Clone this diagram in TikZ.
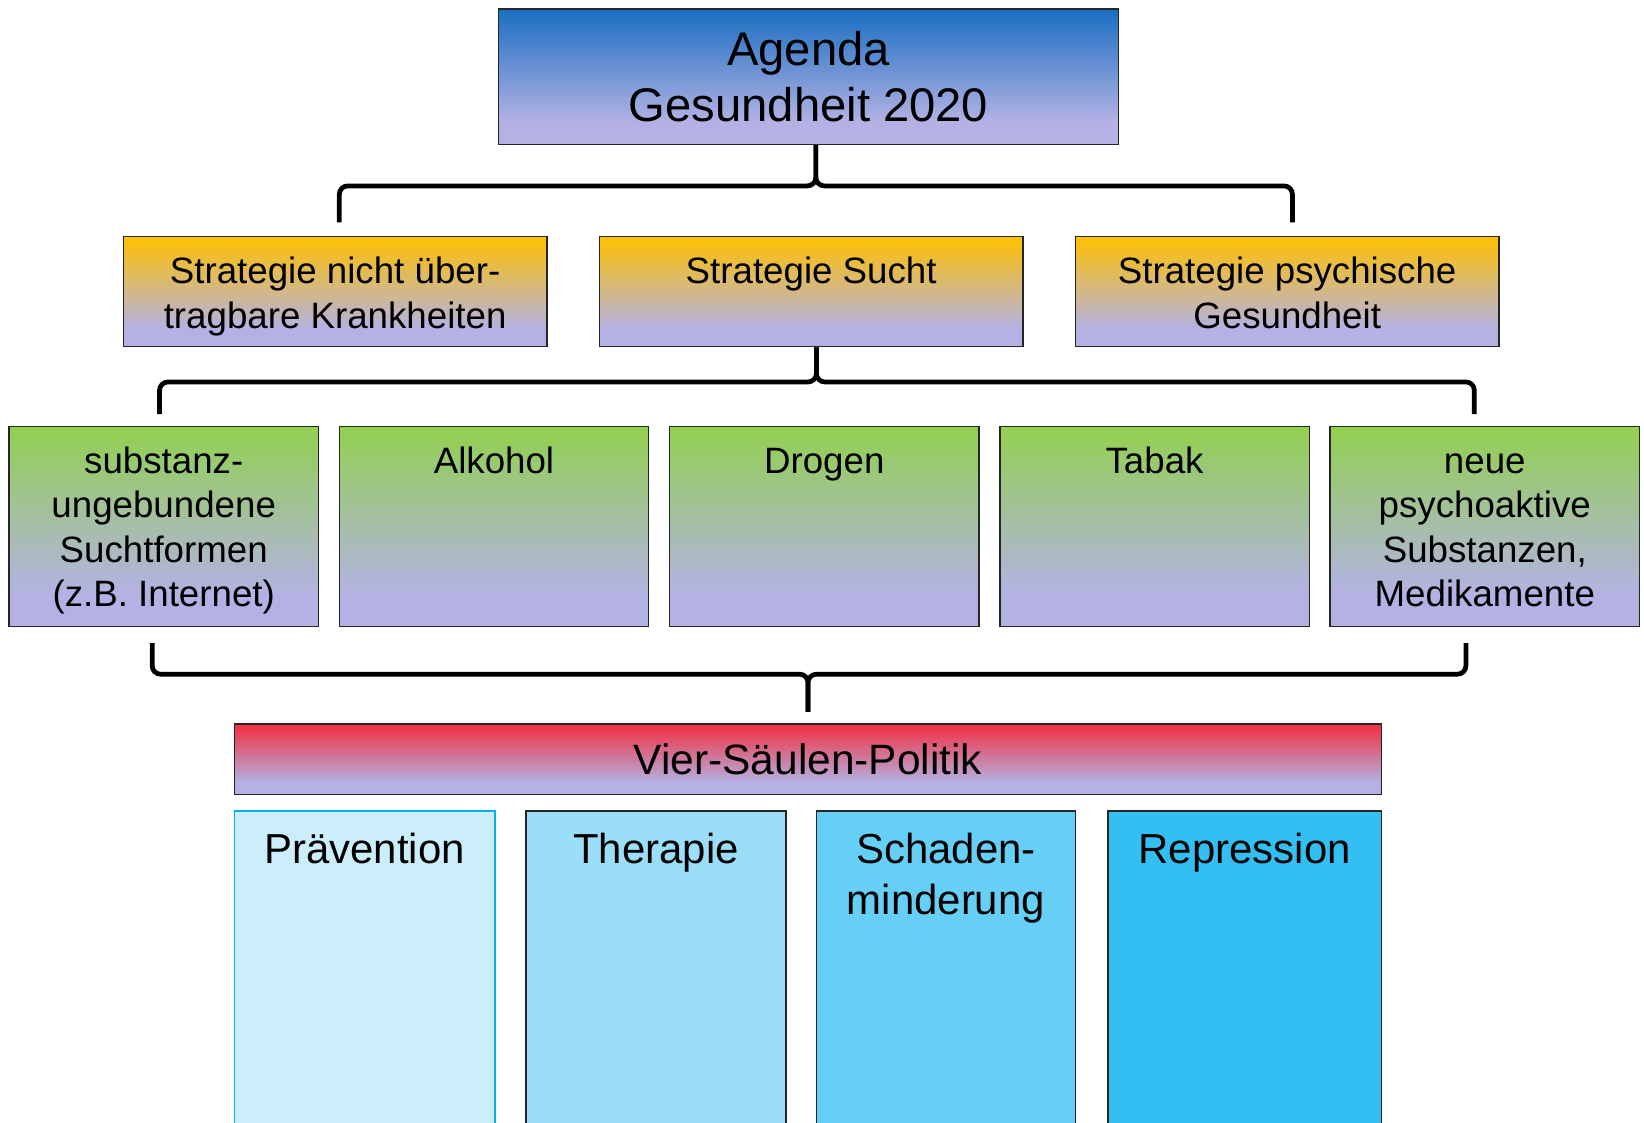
\documentclass[tikz,border=0pt]{standalone}
\usepackage{fontspec}
\setmainfont{Liberation Sans}
\usetikzlibrary{calc}

\definecolor{lav}{RGB}{180,178,228}
\definecolor{agendablue}{RGB}{26,110,194}
\definecolor{strgold}{RGB}{255,192,0}
\definecolor{suchtgreen}{RGB}{146,208,80}
\definecolor{politred}{RGB}{242,46,64}
\definecolor{boxline}{RGB}{38,38,38}
\definecolor{cyanline}{RGB}{0,176,240}

\pgfdeclareverticalshading{agendashade}{100bp}{color(0bp)=(lav); color(33bp)=(lav); color(75bp)=(agendablue); color(100bp)=(agendablue)}
\pgfdeclareverticalshading{strshade}{100bp}{color(0bp)=(lav); color(33bp)=(lav); color(75bp)=(strgold); color(100bp)=(strgold)}
\pgfdeclareverticalshading{suchtshade}{100bp}{color(0bp)=(lav); color(33bp)=(lav); color(75bp)=(suchtgreen); color(100bp)=(suchtgreen)}
\pgfdeclareverticalshading{politshade}{100bp}{color(0bp)=(lav); color(33bp)=(lav); color(75bp)=(politred); color(100bp)=(politred)}

% text at the top of a box: width, height, baseline offset, text
\newcommand{\toptext}[4]{\parbox[c][#2pt][t]{#1pt}{\centering\rule{0pt}{#3pt}#4}}

\begin{document}
\begin{tikzpicture}[x=1pt,y=1pt,
  box/.style={draw=boxline,line width=1.3pt,inner sep=0pt,anchor=north west},
  brace/.style={line width=4.5pt,rounded corners=8pt},
  praebox/.style={fill={rgb,255:red,204;green,238;blue,250},draw=cyanline,line width=1.6pt},
  therabox/.style={fill={rgb,255:red,154;green,222;blue,247}},
  schadbox/.style={fill={rgb,255:red,102;green,207;blue,245}},
  reprbox/.style={fill={rgb,255:red,51;green,191;blue,242}}]
\useasboundingbox (0,0) rectangle (1568,-1071);

\node[box,shade,shading=agendashade,font=\fontsize{45}{53}\selectfont] (agenda) at (475,-8)
  {\parbox[c][129pt][c]{591pt}{\centering Agenda\\Gesundheit 2020}};

% strategien
\foreach \x/\n/\t in {117/s1/{Strategie nicht über-\\tragbare Krankheiten},571/s2/{Strategie Sucht},1025/s3/{Strategie psychische\\Gesundheit}}
  \node[box,shade,shading=strshade,font=\fontsize{35}{42.5}\selectfont] (\n) at (\x,-225) {\toptext{404}{105}{45}{\t}};

% suchtformen
\foreach \i/\t in {1/{substanz-\\ungebundene\\Suchtformen\\(z.B. Internet)},2/Alkohol,3/Drogen,4/Tabak,5/{neue\\psychoaktive\\Substanzen,\\Medikamente}}
  \node[box,shade,shading=suchtshade,font=\fontsize{35}{42.5}\selectfont] (g\i) at ({8+315*(\i-1)},-406) {\toptext{295}{191}{44.5}{\t}};

\node[box,shade,shading=politshade,font=\fontsize{40.5}{48}\selectfont] (vsp) at (223,-690)
  {\parbox[c][67pt][c]{1094pt}{\centering Vier-Säulen-Politik}};

% saeulen
\foreach \x/\w/\n/\s/\t in {223/248/p1/praebox/Prävention,501/248/p2/therabox/Therapie,778/247/p3/schadbox/{Schaden-\\minderung},1056/261/p4/reprbox/Repression}
  \node[box,\s,font=\fontsize{40}{49}\selectfont] (\n) at (\x,-773) {\toptext{\w}{320}{50}{\t}};

% klammern
\draw[brace] ($(s1.north)+(4,13)$) |- ($(agenda.south)+(7,-39)$) -- ($(agenda.south)+(7,0)$);
\draw[brace] ($(s3.north)+(5,13)$) |- ($(agenda.south)+(7,-39)$) -- ($(agenda.south)+(7,0)$);
\draw[brace] ($(g1.north)+(-4,11)$) |- ($(s2.south)+(5,-33)$) -- ($(s2.south)+(5,0)$);
\draw[brace] ($(g5.north)+(-10,11)$) |- ($(s2.south)+(5,-33)$) -- ($(s2.south)+(5,0)$);
\draw[brace] ($(g1.south)+(-11,-15)$) |- ($(vsp.north)+(0,47)$) -- ($(vsp.north)+(0,11)$);
\draw[brace] ($(g5.south)+(-18,-15)$) |- ($(vsp.north)+(0,47)$) -- ($(vsp.north)+(0,11)$);
\end{tikzpicture}
\end{document}
